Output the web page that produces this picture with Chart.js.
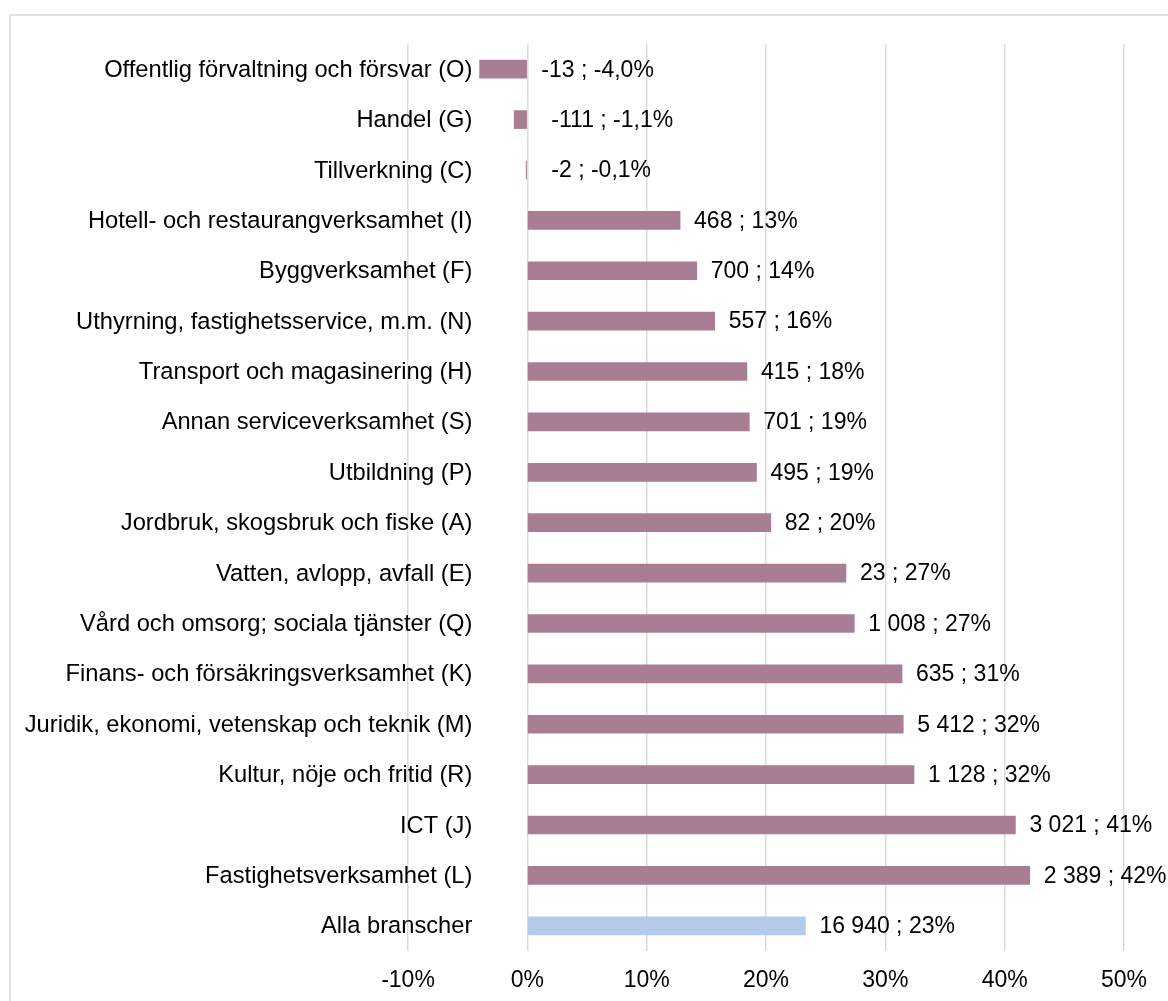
<!DOCTYPE html>
<html>
<head>
<meta charset="utf-8">
<script src="https://cdn.jsdelivr.net/npm/chart.js@4.4.0/dist/chart.umd.min.js"></script>
<style>
  html, body { margin: 0; padding: 0; background: #fff; overflow: hidden; }
  #wrap { position: relative; width: 1168px; height: 1001px; }
  #frame { position: absolute; left: 9px; top: 14px; width: 1200px; height: 1100px;
           border: 2px solid #e3e3e3; box-sizing: border-box; pointer-events: none; }
  canvas { position: absolute; left: 0; top: 0; }
</style>
</head>
<body>
<div id="wrap">
  <div id="frame"></div>
  <canvas id="chart" width="1168" height="1001"></canvas>
</div>
<script>
// branscher (uppifrån och ned)
const categories = [
  'Offentlig förvaltning och försvar (O)',
  'Handel (G)',
  'Tillverkning (C)',
  'Hotell- och restaurangverksamhet (I)',
  'Byggverksamhet (F)',
  'Uthyrning, fastighetsservice, m.m. (N)',
  'Transport och magasinering (H)',
  'Annan serviceverksamhet (S)',
  'Utbildning (P)',
  'Jordbruk, skogsbruk och fiske (A)',
  'Vatten, avlopp, avfall (E)',
  'Vård och omsorg; sociala tjänster (Q)',
  'Finans- och försäkringsverksamhet (K)',
  'Juridik, ekonomi, vetenskap och teknik (M)',
  'Kultur, nöje och fritid (R)',
  'ICT (J)',
  'Fastighetsverksamhet (L)',
  'Alla branscher'
];

// förändring i procent (bar length)
const changePct = [-4.0, -1.1, -0.1, 12.8, 14.2, 15.7, 18.4, 18.6, 19.2, 20.4,
                   26.7, 27.4, 31.4, 31.5, 32.4, 40.9, 42.1, 23.3];

// antal och procent som etikett
const changeCount = ['-13', '-111', '-2', '468', '700', '557', '415', '701', '495', '82',
                     '23', '1 008', '635', '5 412', '1 128', '3 021', '2 389', '16 940'];
const changeLabel = ['-4,0%', '-1,1%', '-0,1%', '13%', '14%', '16%', '18%', '19%', '19%', '20%',
                     '27%', '27%', '31%', '32%', '32%', '41%', '42%', '23%'];

const xTicks = [-10, 0, 10, 20, 30, 40, 50];

const purple = '#a97e95';
const blue = '#b4caeb';
const font = "'Liberation Sans', Arial, sans-serif";

const barColors = categories.map((c, i) => i === categories.length - 1 ? blue : purple);

// etiketter: kategorinamn till vänster och värden efter staplarna
const labelPlugin = {
  id: 'barLabels',
  afterDatasetsDraw(chart) {
    const ctx = chart.ctx;
    const meta = chart.getDatasetMeta(0);
    const xs = chart.scales.x;
    const zero = xs.getPixelForValue(0);
    ctx.save();
    ctx.fillStyle = '#000';
    ctx.textBaseline = 'middle';
    meta.data.forEach((bar, i) => {
      ctx.font = '23.7px ' + font;
      ctx.textAlign = 'right';
      ctx.fillText(categories[i], zero - 55, bar.y + 1);
      ctx.font = '23px ' + font;
      ctx.textAlign = 'left';
      let start = bar.x;
      if (changePct[i] < 0) start = zero + (zero - bar.x < 20 ? 10 : 0);
      ctx.fillText(changeCount[i] + ' ; ' + changeLabel[i], start + 14, bar.y + 1);
    });
    ctx.restore();
  }
};

new Chart(document.getElementById('chart').getContext('2d'), {
  type: 'bar',
  data: {
    labels: categories,
    datasets: [{
      data: changePct,
      backgroundColor: barColors,
      borderWidth: 0,
      barThickness: 18
    }]
  },
  options: {
    indexAxis: 'y',
    responsive: false,
    animation: false,
    layout: { padding: { top: 44, right: 44, left: 0, bottom: 0 } },
    plugins: {
      legend: { display: false },
      tooltip: { enabled: false }
    },
    scales: {
      x: {
        min: -10,
        max: 50,
        afterBuildTicks: (scale) => { scale.ticks = xTicks.map(v => ({ value: v })); },
        afterFit: (scale) => { scale.height = 50; },
        grid: { color: '#dcdcdc', lineWidth: 1.5, drawTicks: false },
        border: { display: false },
        ticks: {
          padding: 16,
          color: '#000',
          font: { family: font, size: 23 },
          callback: (v) => v + '%'
        }
      },
      y: {
        afterFit: (scale) => { scale.width = 408; },
        grid: { display: false, drawTicks: false },
        border: { display: false },
        ticks: { display: false }
      }
    }
  },
  plugins: [labelPlugin]
});
</script>
</body>
</html>
